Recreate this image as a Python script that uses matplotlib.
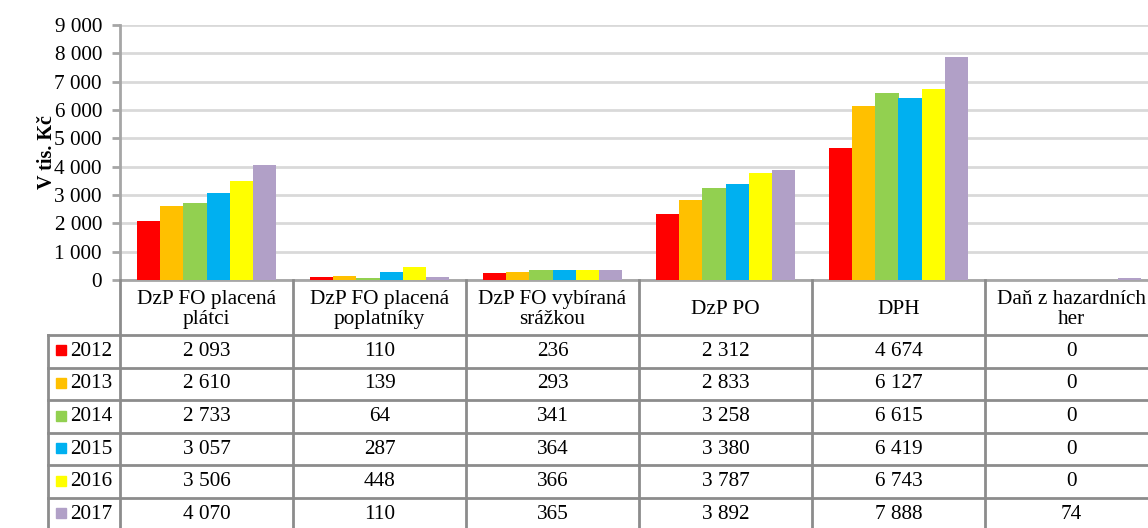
import matplotlib
matplotlib.use("Agg")
import matplotlib.pyplot as plt
from matplotlib.lines import Line2D
from matplotlib.patches import Rectangle
import numpy as np

plt.rcParams['font.family'] = ['Liberation Serif', 'DejaVu Serif']

categories = ["DzP FO placená\nplátci", "DzP FO placená\npoplatníky", "DzP FO vybíraná\nsrážkou",
              "DzP PO", "DPH", "Daň z hazardních\nher"]
years = ["2012", "2013", "2014", "2015", "2016", "2017"]
v2012 = [2093, 110, 236, 2312, 4674, 0]
v2013 = [2610, 139, 293, 2833, 6127, 0]
v2014 = [2733, 64, 341, 3258, 6615, 0]
v2015 = [3057, 287, 364, 3380, 6419, 0]
v2016 = [3506, 448, 366, 3787, 6743, 0]
v2017 = [4070, 110, 365, 3892, 7888, 74]
colors = ["#FF0000", "#FFC000", "#92D050", "#00B0F0", "#FFFF00", "#B1A0C7"]

series = [v2012, v2013, v2014, v2015, v2016, v2017]

def fmt(v):
    return "{:,}".format(v).replace(",", " ")

fs = 15.3
W, H = 1148, 528
fig = plt.figure(figsize=(W / 100, H / 100), dpi=100)

left, right = 120, 1158
top, base = 25, 280
ax = fig.add_axes([left / W, 1 - base / H, (right - left) / W, (base - top) / H])

n = len(categories)
x = np.arange(n)
bw = 0.8 / len(series)
for k, (vals, c) in enumerate(zip(series, colors)):
    ax.bar(x - 0.4 + bw * (k + 0.5), vals, bw, color=c, zorder=3)

ax.set_xlim(-0.5, n - 0.5)
ax.set_ylim(0, 9000)
ax.set_yticks(np.arange(0, 9001, 1000))
ax.set_yticklabels([fmt(t) for t in range(0, 9001, 1000)], fontsize=fs)
ax.set_xticks([])
ax.grid(axis='y', color='#d9d9d9', lw=2, zorder=0)
for s in ['top', 'right']:
    ax.spines[s].set_visible(False)
ax.spines['left'].set_color('#a6a6a6')
ax.spines['left'].set_linewidth(2)
ax.spines['bottom'].set_color('#a6a6a6')
ax.spines['bottom'].set_linewidth(2)
ax.tick_params(axis='y', length=6, color='#a6a6a6', width=2, pad=7)
ax.set_ylabel("V tis. Kč", fontsize=14.5, fontweight='bold', labelpad=-2)

# data table below the chart, sharing the category axis
th = H - base
tab = fig.add_axes([left / W, 0, (right - left) / W, th / H], sharex=ax)
tab.set_ylim(th, 0)
tab.axis('off')
hdr = 55
rh = 32.6
lab_x0 = -0.5 - (left - 48) / ((right - left) / n)
gc = '#8c8c8c'
lw = 2

def line(xs, ys):
    tab.add_line(Line2D(xs, ys, color=gc, lw=lw, clip_on=False))

# header verticals
for i in range(n + 1):
    line([i - 0.5, i - 0.5], [0, hdr + rh * len(years)])
for i, cat in enumerate(categories):
    tab.text(i, hdr / 2 + 2, cat, ha='center', va='center', fontsize=fs,
             linespacing=1.1, clip_on=False)
# row lines
for r in range(len(years) + 1):
    line([lab_x0, n - 0.5], [hdr + rh * r, hdr + rh * r])
line([lab_x0, lab_x0], [hdr, hdr + rh * len(years)])

cw = (right - left) / n
for r, (yr, vals, c) in enumerate(zip(years, series, colors)):
    yc = hdr + rh * (r + 0.5)
    sq = 10
    tab.add_patch(Rectangle((lab_x0 + 8 / cw, yc - sq / 2 - 1), sq / cw, sq,
                            color=c, clip_on=False))
    tab.text(lab_x0 + 22 / cw, yc, yr, ha='left', va='center', fontsize=fs, clip_on=False)
    for i, v in enumerate(vals):
        tab.text(i, yc, fmt(v), ha='center', va='center', fontsize=fs, clip_on=False)

fig.savefig("out.png", dpi=100)
